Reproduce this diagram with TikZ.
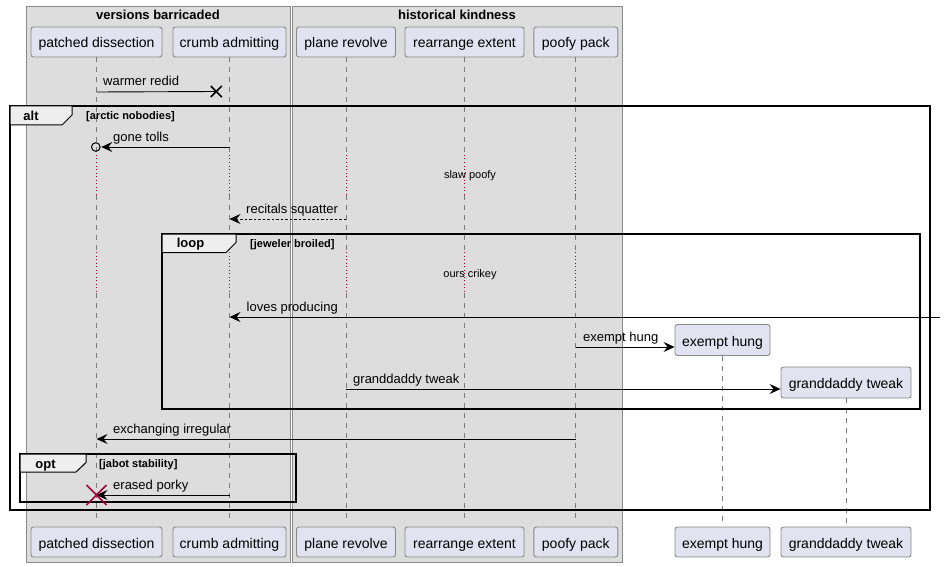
\documentclass[tikz,border=0pt]{standalone}
\usepackage{fontspec}
\setmainfont{Liberation Sans}
\usetikzlibrary{arrows.meta}
\definecolor{partfill}{HTML}{E2E2F0}
\definecolor{partborder}{HTML}{888888}
\definecolor{grpfill}{HTML}{DDDDDD}
\definecolor{grpborder}{HTML}{8A8A8A}
\definecolor{lifeclr}{HTML}{7A7A7A}
\definecolor{delayclr}{HTML}{A80036}
\definecolor{tabfill}{HTML}{EEEEEE}
\begin{document}
\begin{tikzpicture}[x=1pt,y=-1pt,
  part/.style={draw=partborder, fill=partfill, rounded corners=2.5pt, line width=0.9pt,
    minimum height=30pt, inner sep=0pt, text height=15pt, text depth=3pt,
    font=\fontsize{14}{16}\selectfont},
  lifeline/.style={draw=lifeclr, dash pattern=on 5pt off 5pt, line width=0.8pt},
  delayline/.style={draw=delayclr, dash pattern=on 1pt off 2.5pt, line width=0.8pt},
  msg/.style={line width=0.9pt, -{Stealth[length=11pt,width=10pt,inset=4pt]}},
  msglbl/.style={anchor=base west, inner sep=0pt, font=\fontsize{13}{15}\selectfont},
  delaylbl/.style={anchor=base, inner sep=0pt, font=\fontsize{11}{13}\selectfont},
  grptitle/.style={anchor=base, inner sep=0pt, font=\bfseries\fontsize{13}{15}\selectfont},
  frameline/.style={draw=black, line width=1.5pt},
  tabshape/.style={draw=black, fill=tabfill, line width=1pt},
  tablbl/.style={anchor=base, inner sep=0pt, font=\bfseries\fontsize{13}{15}\selectfont},
  condlbl/.style={anchor=base west, inner sep=0pt, font=\bfseries\fontsize{11}{13}\selectfont}
]
\useasboundingbox[fill=white] (0,0) rectangle (945,567);

% group boxes
\draw[draw=grpborder, fill=grpfill, line width=0.9pt] (26,6) rectangle (290,562);
\draw[draw=grpborder, fill=grpfill, line width=0.9pt] (292,6) rectangle (622,562);
\node[grptitle] (g1) at (158,19.5) {versions barricaded};
\node[grptitle] (g2) at (457,19.5) {historical kindness};

% participants top
\node[part, minimum width=131pt] (pd) at (96.5,42) {patched dissection};
\node[part, minimum width=113pt] (ca) at (229.5,42) {crumb admitting};
\node[part, minimum width=99pt]  (pr) at (346,42) {plane revolve};
\node[part, minimum width=119pt] (re) at (464.5,42) {rearrange extent};
\node[part, minimum width=84pt]  (pp) at (575.8,42) {poofy pack};
% created participants
\node[part, minimum width=95pt, minimum height=31pt]  (eh) at (722.5,340) {exempt hung};
\node[part, minimum width=130pt, minimum height=31pt] (gt) at (846,382.5) {granddaddy tweak};
% participants bottom
\node[part, minimum width=131pt] (pdb) at (96.5,542) {patched dissection};
\node[part, minimum width=113pt] (cab) at (229.5,542) {crumb admitting};
\node[part, minimum width=99pt]  (prb) at (346,542) {plane revolve};
\node[part, minimum width=119pt] (reb) at (464.5,542) {rearrange extent};
\node[part, minimum width=84pt]  (ppb) at (575.8,542) {poofy pack};
\node[part, minimum width=95pt]  (ehb) at (722.5,542) {exempt hung};
\node[part, minimum width=130pt] (gtb) at (846,542) {granddaddy tweak};

% row coordinates
\coordinate (d1s) at (0,155);
\coordinate (d1e) at (0,195);
\coordinate (d2s) at (0,252);
\coordinate (d2e) at (0,293);
\coordinate (r1) at (0,92);
\coordinate (r2) at (0,147);
\coordinate (r3) at (0,219);
\coordinate (r4) at (0,317);
\coordinate (r5) at (0,347);
\coordinate (r6) at (0,389);
\coordinate (r7) at (0,439);
\coordinate (r8) at (0,495);

% lifelines
\foreach \p in {pd,ca,pr,re,pp}{
  \draw[lifeline] (\p.south) -- (\p |- d1s);
  \draw[delayline] (\p |- d1s) -- (\p |- d1e);
  \draw[lifeline] (\p |- d1e) -- (\p |- d2s);
  \draw[delayline] (\p |- d2s) -- (\p |- d2e);
  \draw[lifeline] (\p |- d2e) -- ([yshift=4pt]\p b.north);
}
\draw[lifeline] (eh.south) -- ([yshift=4pt]ehb.north);
\draw[lifeline] (gt.south) -- ([yshift=4pt]gtb.north);

% delay texts
\node[delaylbl] (dl1) at (470,178.5) {slaw poofy};
\node[delaylbl] (dl2) at (470,277.5) {ours crikey};

% frames
\draw[frameline] (10,106) rectangle (930,510);
\draw[tabshape] (10,106) -- (72,106) -- (72,115) -- (62,125) -- (10,125) -- cycle;
\node[tablbl] (altl) at (31,121) {alt};
\node[condlbl] (altc) at (86,119.5) {[arctic nobodies]};

\draw[frameline] (162,234) rectangle (920,409);
\draw[tabshape] (162,234) -- (236,234) -- (236,242.5) -- (226,252.5) -- (162,252.5) -- cycle;
\node[tablbl] (loopl) at (190.5,247.5) {loop};
\node[condlbl] (loopc) at (250,247) {[jeweler broiled]};

\draw[frameline] (20,454) rectangle (296,502);
\draw[tabshape] (20,454) -- (86,454) -- (86,462.5) -- (76,472) -- (20,472) -- cycle;
\node[tablbl] (optl) at (45.5,468) {opt};
\node[condlbl] (optc) at (99,467) {[jabot stability]};

% messages
% 1 warmer redid (lost)
\coordinate (lost) at (216.3,91.5);
\draw[line width=0.9pt] (pd |- r1) -- (lost);
\draw[line width=1.6pt] ([shift={(-5.5,-5.5)}]lost) -- ([shift={(5.5,5.5)}]lost)
                        ([shift={(-5.5,5.5)}]lost) -- ([shift={(5.5,-5.5)}]lost);
\node[msglbl] (m1) at (103,86) {warmer redid};

% 2 gone tolls
\coordinate (circ) at (95.8,147);
\draw[msg] (ca |- r2) -- ([xshift=5.5pt]circ);
\draw[line width=1pt] (circ) circle (4.3);
\node[msglbl] (m2) at (113,141.5) {gone tolls};

% 3 recitals squatter
\draw[msg, dash pattern=on 2.5pt off 2pt] (pr |- r3) -- (ca |- r3);
\node[msglbl] (m3) at (246,213.5) {recitals squatter};

% 4 loves producing
\coordinate (rightin) at (940,317);
\draw[msg] (rightin) -- (ca |- r4);
\node[msglbl] (m4) at (246.5,311.5) {loves producing};

% 5 exempt hung (create)
\draw[msg] (pp |- r5) -- (eh.west |- r5);
\node[msglbl] (m5) at (583,341.5) {exempt hung};

% 6 granddaddy tweak (create)
\draw[msg] (pr |- r6) -- (gt.west |- r6);
\node[msglbl] (m6) at (353,383.5) {granddaddy tweak};

% 7 exchanging irregular
\draw[msg] (pp |- r7) -- (pd |- r7);
\node[msglbl] (m7) at (113,433.5) {exchanging irregular};

% 8 erased porky (destroy)
\draw[msg] (ca |- r8) -- (pd |- r8);
\coordinate (dx) at (pd |- r8);
\draw[delayclr, line width=1.6pt] ([shift={(-10,-10)}]dx) -- ([shift={(10,10)}]dx)
                                 ([shift={(-10,10)}]dx) -- ([shift={(10,-10)}]dx);
\node[msglbl] (m8) at (113,489.5) {erased porky};
\end{tikzpicture}
\end{document}
